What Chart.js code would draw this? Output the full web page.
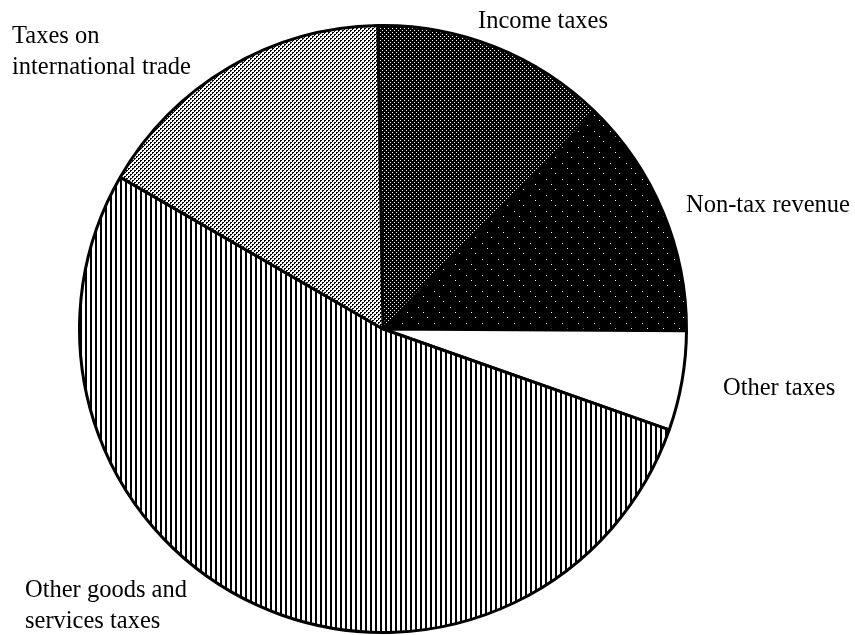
<!DOCTYPE html>
<html>
<head>
<meta charset="utf-8">
<script src="https://cdn.jsdelivr.net/npm/chart.js@4"></script>
<style>
  html, body { margin: 0; padding: 0; background: #fff; }
  #wrap { position: relative; width: 855px; height: 635px; }
</style>
</head>
<body>
<div id="wrap"><canvas id="c" width="855" height="635"></canvas></div>
<script>
// ---- data ----
const categories = ['Income taxes', 'Non-tax revenue', 'Other taxes', 'Other goods and services taxes', 'Taxes on international trade'];
const shares = [12.6, 12.8, 5.3, 53.0, 16.4];
const labelLines = [['Income taxes'], ['Non-tax revenue'], ['Other taxes'], ['Other goods and', 'services taxes'], ['Taxes on', 'international trade']];

// ---- fill patterns ----
function makeTile(w, h, bg, fg, pixels) {
  const t = document.createElement('canvas');
  t.width = w; t.height = h;
  const g = t.getContext('2d');
  g.fillStyle = bg; g.fillRect(0, 0, w, h);
  g.fillStyle = fg;
  pixels.forEach(p => g.fillRect(p[0], p[1], p[2] || 1, p[3] || 1));
  return g.createPattern(t, 'repeat');
}
const patIncome = makeTile(4, 4, '#000', '#fff', [[0,0],[2,2]]);
const patNonTax = makeTile(16, 16, '#000', '#fff', [[2,3],[11,13],[7,8]]);
const patOther = '#fff';
const patGoods = makeTile(5, 5, '#fff', '#000', [[0,0,2,5]]);
const patIntl = makeTile(4, 4, '#fff', '#000', [[0,0,2,1],[0,1,1,1],[2,2,2,1],[2,3,1,1]]);

const labelPlugin = {
  id: 'sliceLabels',
  afterDraw(chart) {
    const ctx = chart.ctx;
    const anchors = [
      [478, 28], [686, 212], [723, 395], [25, 597], [12, 43]
    ];
    ctx.save();
    ctx.fillStyle = '#000';
    ctx.font = '24.5px "Liberation Serif", "Times New Roman", serif';
    ctx.textAlign = 'left';
    ctx.textBaseline = 'alphabetic';
    labelLines.forEach((lines, i) => {
      lines.forEach((ln, j) => ctx.fillText(ln, anchors[i][0], anchors[i][1] + j * 31));
    });
    ctx.restore();
  }
};

new Chart(document.getElementById('c'), {
  type: 'pie',
  data: {
    labels: categories,
    datasets: [{
      data: shares,
      backgroundColor: [patIncome, patNonTax, patOther, patGoods, patIntl],
      borderColor: '#000',
      borderWidth: 3,
      hoverOffset: 0
    }]
  },
  options: {
    responsive: false,
    animation: false,
    rotation: -1,
    layout: { padding: { left: 78, right: 167, top: 24, bottom: 1 } },
    plugins: {
      legend: { display: false },
      tooltip: { enabled: false }
    },
    events: []
  },
  plugins: [labelPlugin]
});
</script>
</body>
</html>
